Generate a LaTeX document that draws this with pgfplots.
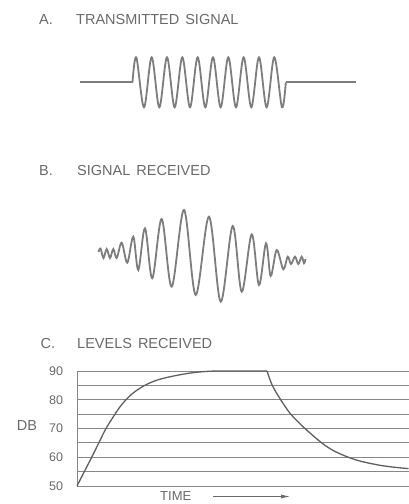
\documentclass[border=0pt]{standalone}
\usepackage{fontspec}
\setmainfont{Liberation Sans}
\usepackage{pgfplots}
\pgfplotsset{compat=1.18}
\usetikzlibrary{arrows.meta}
\definecolor{inkgray}{RGB}{105,105,105}
\definecolor{wavegray}{RGB}{125,125,125}
\definecolor{gridgray}{RGB}{135,135,135}
\definecolor{curvegray}{RGB}{95,95,95}
\begin{document}
\begin{tikzpicture}[x=1pt,y=1pt]
\path[use as bounding box] (0,0) rectangle (409,504);
% ---------- Panels A and B (axis in pixel units) ----------
\begin{axis}[
  at={(0pt,0pt)}, anchor=south west,
  scale only axis, width=409pt, height=504pt,
  xmin=0, xmax=409, ymin=0, ymax=504,
  hide axis, clip=false,
]
% A: transmitted signal
\addplot[wavegray, line width=1.8pt] coordinates {(80,421.7) (132.5,421.7)};
\addplot[wavegray, line width=1.8pt, smooth, tension=0.55] coordinates {
(132.5,421.7) (136.33,446.7) (144.00,396.7) (151.66,446.7) (159.33,396.7)
(166.99,446.7) (174.66,396.7) (182.32,446.7) (189.99,396.7) (197.65,446.7)
(205.32,396.7) (212.98,446.7) (220.65,396.7) (228.31,446.7) (235.98,396.7)
(243.64,446.7) (251.31,396.7) (258.97,446.7) (266.64,396.7) (274.30,446.7)
(281.97,396.7) (285.8,421.7)};
\addplot[wavegray, line width=1.8pt] coordinates {(285.8,421.7) (356,421.7)};
% B: signal received
\addplot[wavegray, line width=1.8pt, smooth, tension=0.55] coordinates {
(98.5,252) (100.5,255.5) (103.5,246) (106.7,255) (110,246) (113.3,255)
(116.7,246) (121.7,261.3) (127.3,241.3) (133.3,267.3) (138.3,234)
(145,275.7) (152.3,225.7) (161.7,285) (171.7,217.3) (184,294)
(195.7,209) (209,287.3) (220.7,202.3) (232.7,278) (241.7,212.3)
(251.7,269.7) (259,219) (266,260.7) (270.7,228) (276.7,254)
(283.3,234.7) (287.7,247.3) (291,240) (295,247.3) (298.3,240)
(301.7,247.3) (304,240.7) (305.5,245)};
% titles
\node[anchor=base west, text=inkgray, font=\fontsize{14.5}{17}\selectfont, inner sep=0pt] at (axis cs:39,479) {A.};
\node[anchor=base west, text=inkgray, font=\fontsize{14.5}{17}\selectfont, inner sep=0pt] at (axis cs:76,479) {TRANSMITTED\hspace{2pt} SIGNAL};
\node[anchor=base west, text=inkgray, font=\fontsize{14.5}{17}\selectfont, inner sep=0pt] at (axis cs:39,328) {B.};
\node[anchor=base west, text=inkgray, font=\fontsize{14.5}{17}\selectfont, inner sep=0pt] at (axis cs:77,328) {SIGNAL\hspace{2pt} RECEIVED};
\node[anchor=base west, text=inkgray, font=\fontsize{14.5}{17}\selectfont, inner sep=0pt] at (axis cs:40.5,155) {C.};
\node[anchor=base west, text=inkgray, font=\fontsize{14.5}{17}\selectfont, inner sep=0pt] at (axis cs:77,155) {LEVELS\hspace{2pt} RECEIVED};
\node[anchor=base west, text=inkgray, font=\fontsize{14.5}{17}\selectfont, inner sep=0pt] at (axis cs:16.7,73) {DB};
\node[anchor=base west, text=inkgray, font=\fontsize{13}{15}\selectfont, inner sep=0pt] at (axis cs:160,4) {TIME};
\draw[inkgray, line width=0.8pt, -{Latex[length=9pt,width=4pt]}] (axis cs:213,7.5) -- (axis cs:290,7.5);
\end{axis}
% ---------- Panel C ----------
\begin{axis}[
  at={(77pt,18pt)}, anchor=south west,
  scale only axis, width=332pt, height=115pt,
  xmin=0, xmax=332, ymin=50, ymax=90,
  axis lines=left, axis line style={-, gridgray, line width=0.9pt},
  xtick=\empty,
  ytick={50,55,...,90},
  yticklabels={50,,60,,70,,80,,90},
  major tick length=0pt,
  ymajorgrids, grid style={gridgray, line width=0.9pt},
  yticklabel style={text=inkgray, font=\fontsize{12.5}{14}\selectfont, xshift=-10.5pt},
  /pgf/number format/assume math mode=true,
  clip=false,
]
\addplot[curvegray, line width=1.3pt, smooth, tension=0.5] coordinates {
(0,50) (7.3,55) (14.7,60) (21.8,65) (29,70) (38,75) (42.9,77.5) (49,80) (56.7,82.5)
(67.7,85) (81.5,87) (100,88.5) (118,89.5) (140,90) (190,90)};
\addplot[curvegray, line width=1.3pt, smooth, tension=0.5] coordinates {
(190,90) (195.3,85) (203.7,80) (213.7,75) (228,70) (244.7,65) (257,62.2) (271.3,60)
(285,58.5) (303,57.2) (318,56.5) (331.5,56.05)};
\end{axis}
\end{tikzpicture}
\end{document}
